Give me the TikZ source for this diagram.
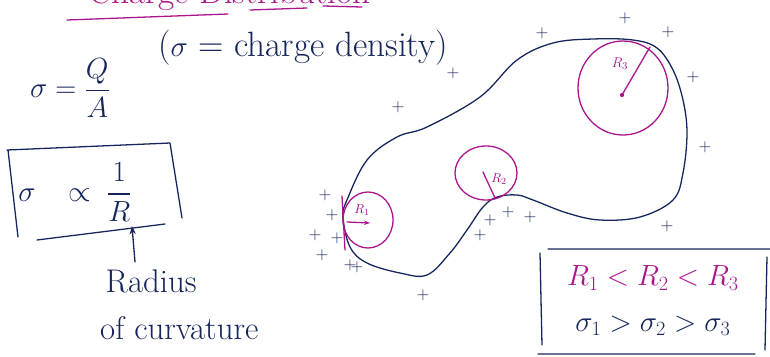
\documentclass[tikz,border=0pt]{standalone}
\usepackage{amsmath,amssymb,xcolor,tikz}
\usetikzlibrary{arrows.meta}
\definecolor{ink}{RGB}{22,38,92}
\definecolor{pink}{RGB}{170,20,140}
\tikzset{
  hand/.style={ink,line width=1.1pt,line cap=round,line join=round},
  penm/.style={pink,line width=1.1pt,line cap=round,line join=round},
  txt/.style={ink,font=\fontsize{22}{26}\selectfont,inner sep=0pt},
  chg/.style={ink,font=\fontsize{14}{16}\selectfont\bfseries,inner sep=0pt}
}
\begin{document}
\begin{tikzpicture}[x=0.03cm,y=-0.03cm]
\useasboundingbox (0,0) rectangle (770,356);
\clip (0,0) rectangle (770,356);
% title, cut off at the top
\node[pink,font=\fontsize{30}{34}\selectfont,anchor=base west,inner sep=0pt] (title) at (88,3) {Charge Distribution};
\draw[penm] (67,20)--(228,14); \draw[penm] (250,10)--(307,8); \draw[penm] (323,6)--(362,7);
% definition
\node[txt,font=\fontsize{25}{30}\selectfont] (def) at (70,88) {$\sigma=\dfrac{Q}{A}$};
\node[txt,font=\fontsize{30}{34}\selectfont,anchor=west] (name) at (158,48) {($\sigma$ = charge density)};
% boxed relation
\node[txt,font=\fontsize{25}{30}\selectfont] (prop) at (75,192) {$\sigma\;\;\;\propto\;\dfrac{1}{R}$};
\coordinate (rtip) at (132,226);
\draw[hand] (7,150)--(170,143) (8,150)--(18,237) (170,143)--(182,218) (37,240)--(165,224);
\node[txt,font=\fontsize{28}{40}\selectfont,align=left,anchor=west] (radius) at (100,305) {\,Radius\\of curvature};
\draw[hand,-{Stealth[length=7pt]}] (135,262)--(rtip);
% conductor
\draw[hand] plot[smooth cycle,tension=0.6] coordinates {
 (347,200) (367,160) (397,137) (427,127) (480,97) (517,60) (553,43) (593,39)
 (633,40) (657,48) (673,70) (683,100) (687,133) (683,173) (673,200) (640,217)
 (600,220) (567,213) (533,200) (517,195) (497,197) (483,207) (467,230) (450,253)
 (427,275) (400,273) (367,263) (350,247) (343,217)};
% radii of curvature
\draw[penm] (623,88) ellipse (45 and 47);
\fill[pink] (622,95) circle (1.8pt);
\draw[penm] (622,95)--(650,47);
\node[pink,font=\fontsize{13}{15}\selectfont,inner sep=0pt] (lthree) at (620,64) {$R_3$};
\draw[penm] (486,173) ellipse (31 and 27);
\draw[penm] (483,172)--(495,198);
\node[pink,font=\fontsize{11}{13}\selectfont,inner sep=0pt] (ltwo) at (499,179) {$R_2$};
\draw[penm] (368,220) ellipse (25 and 28);
\draw[penm] (342,196)--(345,250);
\node[pink,font=\fontsize{11}{13}\selectfont,inner sep=0pt] (lone) at (362,210) {$R_1$};
\draw[penm,-{Stealth[length=5pt]}] (347,222)--(370,223);
% charges
\foreach \x/\y [count=\i] in {453/73,398/107,542/33,625/18,668/32,693/77,705/147,
  325/195,332/215,315/235,337/238,322/255,350/265,357/267,480/235,490/220,
  508/212,530/217,667/226,423/295}
  \node[chg] (q\i) at (\x,\y) {$+$};
% result box
\draw[hand] (548,249)--(770,249) (540,253)--(542,345) (538,354)--(755,354) (767,257)--(765,350);
\node[pink,font=\fontsize{27}{30}\selectfont,inner sep=0pt] (order) at (653,278) {$R_1<R_2<R_3$};
\node[txt,font=\fontsize{27}{30}\selectfont] (dens) at (653,326) {$\sigma_1>\sigma_2>\sigma_3$};
\end{tikzpicture}
\end{document}
